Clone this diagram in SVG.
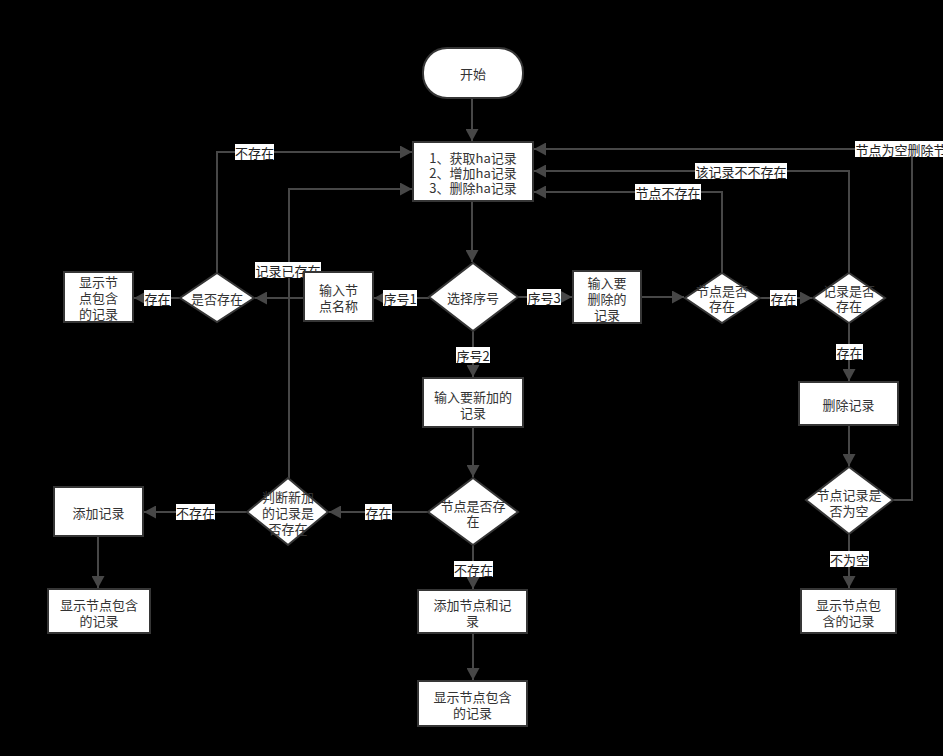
<svg xmlns="http://www.w3.org/2000/svg" width="943" height="756" viewBox="0 0 943 756">
<defs>
<marker id="arr" markerWidth="12" markerHeight="13" refX="12" refY="6.5" orient="auto" markerUnits="userSpaceOnUse"><path d="M0,0 L12,6.5 L0,13 Z" fill="#474747"/></marker>
<style>
.n{fill:#fff;stroke:#363636;stroke-width:2}
.t{font-family:"Noto Sans CJK SC","Liberation Sans",sans-serif;font-size:13px;fill:#333;text-anchor:middle;dominant-baseline:central}
.c{fill:none;stroke:#474747;stroke-width:2;marker-end:url(#arr)}
.c2{fill:none;stroke:#474747;stroke-width:2}
.lb{fill:#fff}
.lt{font-family:"Noto Sans CJK SC","Liberation Sans",sans-serif;font-size:13px;fill:#222;text-anchor:middle;dominant-baseline:central}
</style>
</defs>
<rect width="943" height="756" fill="#000"/>
<g id="connectors">
<path class="c" d="M472,98 V141"/>
<path class="c" d="M472,201 V262"/>
<path class="c" d="M429,298 H374"/>
<path class="c" d="M304,298 H255"/>
<path class="c" d="M180,298 H134"/>
<path class="c" d="M217,273 V152 H412"/>
<path class="c" d="M289,478 V189 H412"/>
<path class="c" d="M518,297 H572"/>
<path class="c" d="M473,331 V377"/>
<path class="c" d="M641,297 H684"/>
<path class="c" d="M722,273 V192 H534"/>
<path class="c" d="M760,298 H812"/>
<path class="c" d="M849,273 V171 H534"/>
<path class="c" d="M849,323 V381"/>
<path class="c" d="M849,425 V466"/>
<path class="c" d="M893,500 H912 V149 H534"/>
<path class="c" d="M849,534 V588"/>
<path class="c" d="M473,427 V477"/>
<path class="c" d="M428,512 H329"/>
<path class="c" d="M247,512 H144"/>
<path class="c" d="M98,536 V588"/>
<path class="c" d="M473,545 V589"/>
<path class="c" d="M473,633 V680"/>
</g>
<g id="labels">
<rect class="lb" x="235" y="144" width="39" height="16"/><text class="lt" x="254.5" y="152">不存在</text>
<rect class="lb" x="255" y="262" width="66" height="16"/><text class="lt" x="288" y="270">记录已存在</text>
<rect class="lb" x="144" y="290" width="27" height="16"/><text class="lt" x="157.5" y="298">存在</text>
<rect class="lb" x="383" y="290" width="34" height="16"/><text class="lt" x="400" y="298">序号1</text>
<rect class="lb" x="527" y="289" width="34" height="16"/><text class="lt" x="544" y="297">序号3</text>
<rect class="lb" x="456" y="347" width="34" height="16"/><text class="lt" x="473" y="355">序号2</text>
<rect class="lb" x="635" y="184" width="66" height="16"/><text class="lt" x="668" y="192">节点不存在</text>
<rect class="lb" x="695" y="163" width="92" height="16"/><text class="lt" x="741" y="171">该记录不不存在</text>
<rect class="lb" x="855" y="141" width="92" height="16"/><text class="lt" x="901" y="149">节点为空删除节</text>
<rect class="lb" x="770" y="290" width="27" height="16"/><text class="lt" x="783.5" y="298">存在</text>
<rect class="lb" x="836" y="344" width="27" height="16"/><text class="lt" x="849.5" y="352">存在</text>
<rect class="lb" x="830" y="551" width="39" height="16"/><text class="lt" x="849.5" y="559">不为空</text>
<rect class="lb" x="365" y="504" width="27" height="16"/><text class="lt" x="378.5" y="512">存在</text>
<rect class="lb" x="176" y="504" width="39" height="16"/><text class="lt" x="195.5" y="512">不存在</text>
<rect class="lb" x="454" y="561" width="39" height="16"/><text class="lt" x="473.5" y="569">不存在</text>
</g>
<g id="start"><rect class="n" x="423" y="48" width="100" height="50" rx="24"/><text class="t" x="473" y="73">开始</text></g>
<g id="menu"><rect class="n" x="413" y="142" width="120" height="59"/><text class="t" x="473" y="157">1、获取ha记录</text><text class="t" x="473" y="172">2、增加ha记录</text><text class="t" x="473" y="187">3、删除ha记录</text></g>
<g id="choose"><polygon class="n" points="473,263 518,297 473,331 429,297"/><text class="t" x="473" y="297">选择序号</text></g>
<g id="inputName"><rect class="n" x="304" y="272" width="69" height="49"/><text class="t" x="338.5" y="289">输入节</text><text class="t" x="338.5" y="305">点名称</text></g>
<g id="nodeExists1"><polygon class="n" points="217,273 254,298 217,322 180,298"/><text class="t" x="217" y="298">是否存在</text></g>
<g id="showRecords1"><rect class="n" x="64" y="272" width="69" height="50"/><text class="t" x="98.5" y="281">显示节</text><text class="t" x="98.5" y="297">点包含</text><text class="t" x="98.5" y="313">的记录</text></g>
<g id="inputNew"><rect class="n" x="423" y="378" width="100" height="49"/><text class="t" x="473" y="396">输入要新加的</text><text class="t" x="473" y="412">记录</text></g>
<g id="nodeExists2"><polygon class="n" points="473,478 518,512 473,545 428,512"/><text class="t" x="473" y="505">节点是否存</text><text class="t" x="473" y="520">在</text></g>
<g id="recordExists2"><polygon class="n" points="288,478 328,512 288,545 247,512"/><text class="t" x="288" y="496">判断新加</text><text class="t" x="288" y="512">的记录是</text><text class="t" x="288" y="528">否存在</text></g>
<g id="addRecord"><rect class="n" x="54" y="487" width="89" height="49"/><text class="t" x="98.5" y="512">添加记录</text></g>
<g id="showRecords2"><rect class="n" x="48" y="589" width="102" height="44"/><text class="t" x="99" y="604">显示节点包含</text><text class="t" x="99" y="620">的记录</text></g>
<g id="addNode"><rect class="n" x="418" y="590" width="109" height="43"/><text class="t" x="472.5" y="604">添加节点和记</text><text class="t" x="472.5" y="620">录</text></g>
<g id="showRecords3"><rect class="n" x="418" y="681" width="109" height="45"/><text class="t" x="472.5" y="696">显示节点包含</text><text class="t" x="472.5" y="712">的记录</text></g>
<g id="inputDel"><rect class="n" x="573" y="271" width="68" height="52"/><text class="t" x="607" y="282">输入要</text><text class="t" x="607" y="298">删除的</text><text class="t" x="607" y="314">记录</text></g>
<g id="nodeExists3"><polygon class="n" points="722,273 760,298 722,323 685,298"/><text class="t" x="722" y="290">节点是否</text><text class="t" x="722" y="305">存在</text></g>
<g id="recordExists3"><polygon class="n" points="849,273 885,298 849,323 813,298"/><text class="t" x="849" y="290">记录是否</text><text class="t" x="849" y="305">存在</text></g>
<g id="delRecord"><rect class="n" x="799" y="382" width="99" height="43"/><text class="t" x="848.5" y="404">删除记录</text></g>
<g id="nodeEmpty"><polygon class="n" points="849,467 893,500 849,534 806,500"/><text class="t" x="849" y="494">节点记录是</text><text class="t" x="849" y="510">否为空</text></g>
<g id="showRecords4"><rect class="n" x="801" y="589" width="95" height="44"/><text class="t" x="848.5" y="604">显示节点包</text><text class="t" x="848.5" y="620">含的记录</text></g>
</svg>
